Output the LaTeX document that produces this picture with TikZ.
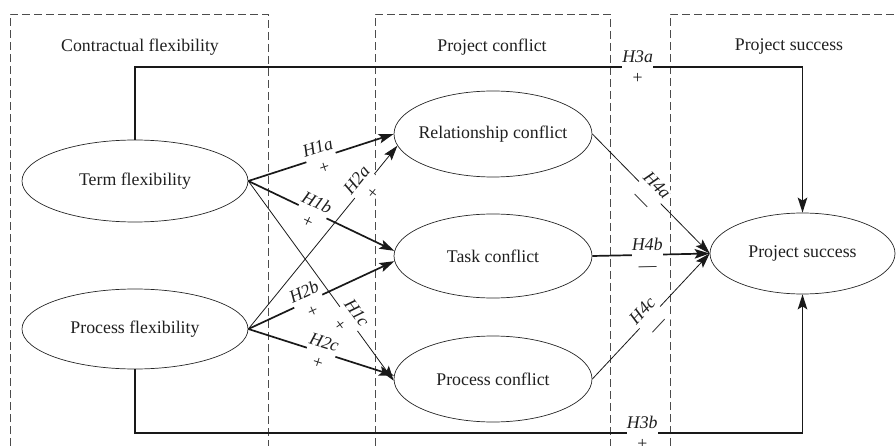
\documentclass[tikz,border=0pt]{standalone}
\usepackage{fontspec}
\setmainfont{Liberation Serif}
\usetikzlibrary{arrows.meta,shapes.geometric}
\begin{document}
\begin{tikzpicture}[x=1pt,y=-1pt,
  every node/.style={font=\fontsize{17.8}{21}\selectfont, text=black!88},
  ell/.style={draw=black!85, line width=0.7pt, ellipse, inner sep=0pt},
  conn/.style={draw=black!90, line width=0.8pt, -{Stealth[length=15pt,width=9.5pt,inset=3pt]}},
  thk/.style={line width=1.7pt},
  lab/.style={fill=white, inner sep=0pt, align=center, sloped},
  region/.style={draw=black!70, dash pattern=on 8pt off 4pt, line width=0.75pt},
  hdr/.style={inner sep=0pt}
]
\useasboundingbox (0,0) rectangle (896,446);
\clip (0,0) rectangle (896,446);
% regions
\draw[region] (10,470) -- (10,14) -- (268,14) -- (268,470);
\draw[region] (375,470) -- (375,14) -- (610,14) -- (610,470);
\draw[region] (670,470) -- (670,14) -- (920,14) -- (920,470);
\node[hdr] (h1) at (140,47) {Contractual flexibility};
\node[hdr] (h2) at (492,47) {Project conflict};
\node[hdr] (h3) at (789,47) {Project success};
% ellipses
\node[ell, minimum width=226pt, minimum height=82pt] (tf) at (135,181) {\makebox[0pt]{Term flexibility}};
\node[ell, minimum width=226pt, minimum height=80pt] (pf) at (135,329) {\makebox[0pt]{Process flexibility}};
\node[ell, minimum width=198pt, minimum height=86pt] (rc) at (493,134) {\makebox[0pt]{Relationship conflict}};
\node[ell, minimum width=198pt, minimum height=84pt] (tc) at (493,256) {\makebox[0pt]{Task conflict}};
\node[ell, minimum width=198pt, minimum height=86pt] (pc) at (493,379) {\makebox[0pt]{Process conflict}};
\node[ell, minimum width=185pt, minimum height=81pt] (ps) at (802.5,253.5) {\makebox[0pt]{Project success}};
\coordinate (top) at (0,67);
\coordinate (bot) at (0,433);
% H3
\draw[conn,thk] (tf.north) -- (tf.north |- top) -- node[lab,pos=0.753]{\textit{H3a}\\+} (ps.north |- top) -- (ps.north);
\draw[conn,thk] (pf.south) -- (pf.south |- bot) -- node[lab,pos=0.76]{\textit{H3b}\\+} (ps.south |- bot) -- (ps.south);
% H1, H2
\draw[conn,thk] (tf.east) -- node[lab,pos=0.5]{\textit{H1a}\\+} (rc.west);
\draw[conn,thk] (tf.east) -- node[lab,pos=0.44]{\textit{H1b}\\+} (tc.177);
\draw[conn] (tf.east) -- node[lab,pos=0.69]{\textit{H1c}\\+} (pc.181);
\draw[conn] (pf.east) -- node[lab,pos=0.78]{\textit{H2a}\\+} (rc.187);
\draw[conn,thk] (pf.east) -- node[lab,pos=0.41]{\textit{H2b}\\+} (tc.183);
\draw[conn,thk] (pf.east) -- node[lab,pos=0.5]{\textit{H2c}\\+} (pc.178);
% H4
\draw[conn] (rc.east) -- node[lab,pos=0.49]{\textit{H4a}\\—} (ps.west);
\draw[conn,thk] (tc.east) -- node[lab,pos=0.47]{\textit{H4b}\\—} (ps.west);
\draw[conn] (pc.east) -- node[lab,pos=0.49]{\textit{H4c}\\—} (ps.west);
\end{tikzpicture}
\end{document}
